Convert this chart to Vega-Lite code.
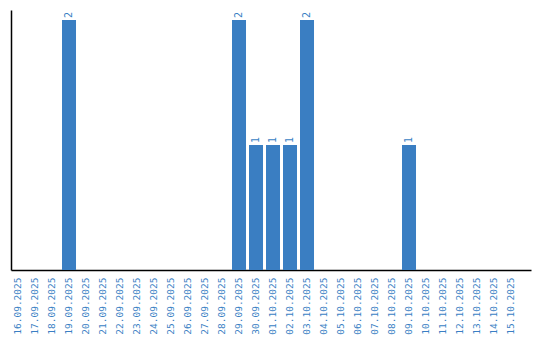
{
  "$schema": "https://vega.github.io/schema/vega-lite/v6.json",
  "width": 520,
  "height": 260,
  "autosize": {"type": "none"},
  "padding": {"left": 11, "top": 10, "right": 9, "bottom": 70},
  "background": "white",
  "config": {"view": {"stroke": null}},
  "data": {"values": [
    {"d": "16.09.2025", "v": 0}, {"d": "17.09.2025", "v": 0}, {"d": "18.09.2025", "v": 0},
    {"d": "19.09.2025", "v": 2}, {"d": "20.09.2025", "v": 0}, {"d": "21.09.2025", "v": 0},
    {"d": "22.09.2025", "v": 0}, {"d": "23.09.2025", "v": 0}, {"d": "24.09.2025", "v": 0},
    {"d": "25.09.2025", "v": 0}, {"d": "26.09.2025", "v": 0}, {"d": "27.09.2025", "v": 0},
    {"d": "28.09.2025", "v": 0}, {"d": "29.09.2025", "v": 2}, {"d": "30.09.2025", "v": 1},
    {"d": "01.10.2025", "v": 1}, {"d": "02.10.2025", "v": 1}, {"d": "03.10.2025", "v": 2},
    {"d": "04.10.2025", "v": 0}, {"d": "05.10.2025", "v": 0}, {"d": "06.10.2025", "v": 0},
    {"d": "07.10.2025", "v": 0}, {"d": "08.10.2025", "v": 0}, {"d": "09.10.2025", "v": 1},
    {"d": "10.10.2025", "v": 0}, {"d": "11.10.2025", "v": 0}, {"d": "12.10.2025", "v": 0},
    {"d": "13.10.2025", "v": 0}, {"d": "14.10.2025", "v": 0}, {"d": "15.10.2025", "v": 0}
  ]},
  "encoding": {
    "x": {
      "field": "d", "type": "nominal", "sort": null,
      "scale": {"paddingInner": 0.176, "paddingOuter": 0.382, "align": 0},
      "axis": {
        "title": null, "ticks": false, "labelAngle": -90, "labelAlign": "right", "labelBaseline": "middle",
        "labelPadding": 7, "labelColor": "#3a7fc4", "labelFont": "DejaVu Sans Mono", "labelFontSize": 9.5,
        "domainColor": "#000000", "domainWidth": 1.5, "grid": false
      }
    },
    "y": {
      "field": "v", "type": "quantitative",
      "scale": {"domain": [0, 2.08], "nice": false},
      "axis": {"title": null, "labels": false, "ticks": false, "grid": false, "domainColor": "#000000", "domainWidth": 1.5}
    }
  },
  "layer": [
    {"mark": {"type": "bar", "color": "#3a7ec2"}},
    {"transform": [{"filter": "datum.v > 0"}],
     "mark": {"type": "text", "angle": 270, "align": "left", "baseline": "middle", "dx": 2, "color": "#3a7fc4", "font": "DejaVu Sans Mono", "fontSize": 10},
     "encoding": {"text": {"field": "v", "type": "quantitative"}}}
  ]
}
